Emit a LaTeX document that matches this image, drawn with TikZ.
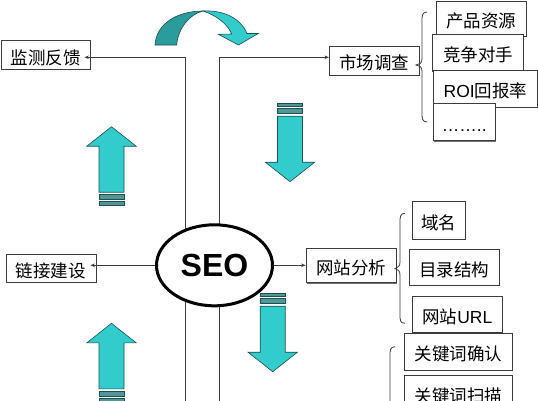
\documentclass[tikz,border=0pt]{standalone}
\usepackage{fontspec}
\newfontfamily\cjk{Noto Sans CJK SC}
\newfontfamily\arial{Liberation Sans}
\usetikzlibrary{arrows.meta,shadows,shapes.geometric}
\definecolor{tealL}{RGB}{51,204,204}
\definecolor{tealD}{RGB}{42,156,156}
\definecolor{tealE}{RGB}{30,80,80}
\definecolor{stripe}{RGB}{80,150,150}
\definecolor{linec}{RGB}{60,60,60}
\tikzset{
  box/.style={draw=linec, line width=0.8pt, fill=white, inner sep=0pt,
    font=\cjk\fontsize{17.5}{18}\selectfont, text height=18pt, text depth=0pt,
    drop shadow={shadow xshift=1pt, shadow yshift=-1pt, fill=black!55, opacity=1}},
  conn/.style={draw=linec, line width=0.8pt},
  tipc/.style={-{Stealth[length=4.5pt,width=3.5pt]}},
  brc/.style={draw=linec, line width=0.8pt},
  arrowfill/.style={fill=tealL, draw=tealE, line width=0.6pt},
  stripefill/.style={fill=stripe, draw=tealE, line width=0.5pt},
  striparrow/.pic={
    \path[arrowfill] (0,0) -- (24.7,19.5) -- (12.5,19.5) -- (12.5,65.5)
      -- (-12.5,65.5) -- (-12.5,19.5) -- (-24.7,19.5) -- cycle;
    \path[stripefill] (-12.5,68) rectangle (12.5,73);
    \path[stripefill] (-12.5,75) rectangle (12.5,78.5);
  }
}
\begin{document}
\begin{tikzpicture}[x=1pt,y=-1pt]
\useasboundingbox (0,0) rectangle (538,400);
\clip (0,0) rectangle (538,400);
\fill[white] (0,0) rectangle (538,400);

% corner coordinates of the central channel
\coordinate (c1) at (185,57.3);
\coordinate (c2) at (219,57.3);
\coordinate (b1) at (185,402);
\coordinate (b2) at (219,402);

% left boxes
\node[box, minimum width=89pt, minimum height=28.6pt] (jc) at (45.5,55) {监测反馈};
\node[box, minimum width=90pt, minimum height=28.3pt] (lj) at (51,268.2) {链接建设};

% market research group
\node[box, minimum width=89.7pt, minimum height=29pt] (sc) at (374.2,60.5) {市场调查};
\node[box, minimum width=90pt, minimum height=35pt] (cp) at (481,18.5) {产品资源};
\node[box, minimum width=90.6pt, minimum height=36.7pt] (jz) at (478,52.7) {竞争对手};
\node[box, minimum width=104.4pt, minimum height=37.3pt] (roi) at (485.5,88.7) {{\arial ROI}回报率};
\node[box, minimum width=62pt, minimum height=37.4pt] (dots) at (464.3,122) {\arial ……..};

% site analysis group
\node[box, minimum width=90pt, minimum height=34.4pt] (wz) at (351,265.5) {网站分析};
\node[box, minimum width=52.3pt, minimum height=37.6pt] (ym) at (438.8,220.5) {域名};
\node[box, minimum width=90pt, minimum height=35.7pt] (ml) at (454.3,267.2) {目录结构};
\node[box, minimum width=90pt, minimum height=36.7pt] (url) at (457.3,314.3) {网站{\arial URL}};

% keyword group
\node[box, minimum width=108pt, minimum height=36.7pt] (qr) at (458.3,351.7) {关键词确认};
\node[box, minimum width=108pt, minimum height=37pt] (sm) at (458.3,393.5) {关键词扫描};

% channel lines and top connectors
\draw[conn, tipc, shorten >=-6pt] (c1) -- (jc.east |- c1);
\draw[conn] (c1) -- (b1);
\draw[conn] (c2) -- (b2);
\draw[conn, tipc] (c2) -- (sc.west |- c2);

% SEO ellipse
\node[draw=black, line width=3pt, fill=white, ellipse, minimum width=116pt, minimum height=81pt,
  inner sep=0pt, font=\arial\bfseries\fontsize{32}{32}\selectfont] (seo) at (214.5,265.3) {SEO};
\draw[conn, tipc, shorten >=-6pt] (seo.west) -- (lj.east |- seo.west);
\draw[conn, tipc] (seo.east) -- (wz.west |- seo.east);

% braces
\draw[brc] (427,12) .. controls (422,12) and (422,16) .. (422,22) -- (422,59)
  .. controls (422,63) and (419,65) .. (416,65) .. controls (419,65) and (422,67) .. (422,71)
  -- (422,112) .. controls (422,118) and (422,122) .. (427,122);
\draw[brc] (405,213.3) .. controls (400,213.3) and (400,217) .. (400,223) -- (400,262)
  .. controls (400,266) and (398,268) .. (395,268.5) .. controls (398,269) and (400,271) .. (400,275)
  -- (400,314) .. controls (400,320) and (400,323.3) .. (405,323.3);
\draw[brc] (395,346.7) .. controls (390,347) and (390,350) .. (390,356) -- (390,410);

% striped block arrows
\pic at (111.5,126.7) {striparrow};
\pic at (111.5,323.3) {striparrow};
\pic[yscale=-1] at (290,181.7) {striparrow};
\pic[yscale=-1] at (272.7,371.7) {striparrow};

% curved arrow on top
\path[fill=tealD, draw=tealE, line width=0.6pt] (155,45) .. controls (156,24) and (177,11) .. (203,11)
  .. controls (190,14) and (178,28) .. (176.7,45) -- cycle;
\path[fill=tealL, draw=tealE, line width=0.6pt] (203,11) .. controls (222,10) and (240,17) .. (247,33.5)
  -- (258.3,33.5) -- (238.5,45) -- (218.3,34.3) -- (231.7,34) .. controls (228,25) and (218,16) .. (203,11) -- cycle;
\end{tikzpicture}
\end{document}
